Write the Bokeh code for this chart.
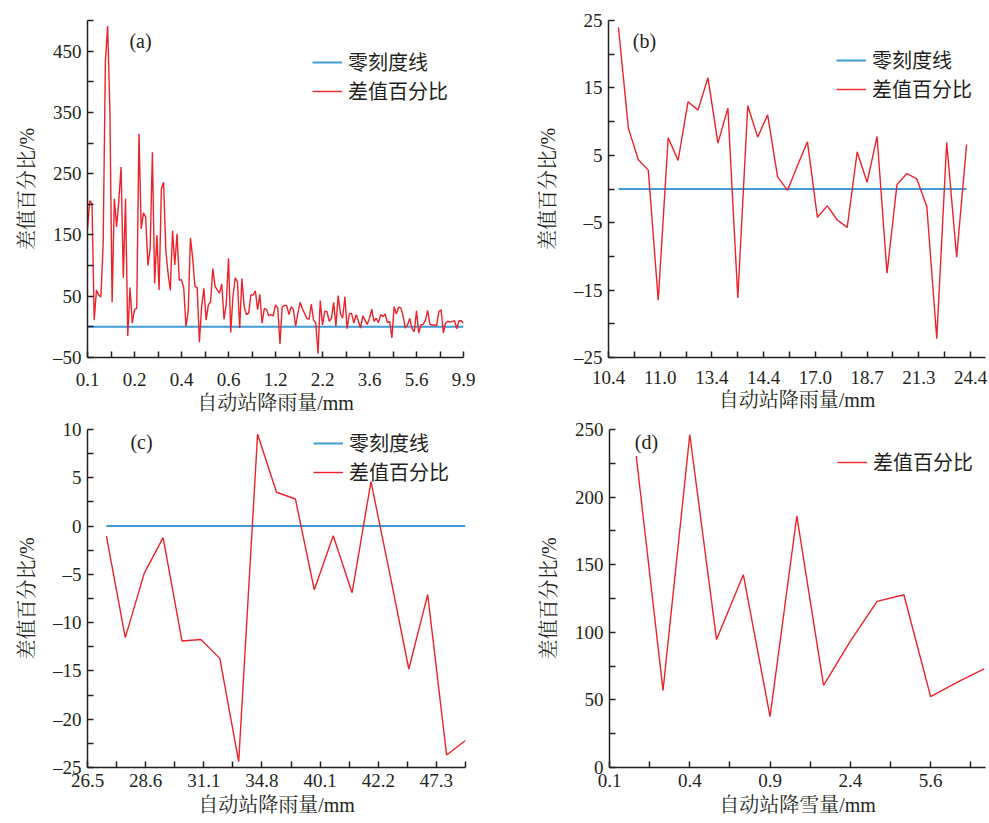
from bokeh.plotting import figure
from bokeh.models import Range1d, FixedTicker, Legend, LegendItem, Label
from bokeh.layouts import column, row
from bokeh.embed import file_html
from bokeh.resources import INLINE

# ---------------- data ----------------
A_VALUES = [160, 206, 201, 11, 60, 52, 49, 136, 434, 491, 353, 40, 209, 163, 206, 261, 80, 209, -15, 64,
            6, 28, 30, 315, 160, 186, 179, 100, 128, 285, 71, 150, 60, 225, 236, 125, 87, 60, 157, 101,
            152, 76, 77, 63, 1, 25, 145, 112, 66, 64, -25, 33, 63, 11, 36, 41, 95, 66, 60, 55,
            70, 12, 37, 112, -9, 50, 80, 74, -2, 79, 33, 20, 22, 52, 52, 59, 28, 53, 6, 30,
            28, 18, 20, 18, 36, 31, -28, 33, 35, 35, 20, 33, 28, 1, 22, 40, 30, 22, 14, 12,
            37, 11, 6, -44, 43, 3, 25, 25, 9, 14, 40, 1, 51, 22, 14, 49, -3, 21, 22, 6,
            20, 10, -2, 18, 11, 4, 14, 29, 9, 14, 7, 20, 17, 21, 7, 9, -18, 33, 21, 32,
            31, 18, -2, 3, 14, -3, -8, 26, -10, 3, 4, 11, 27, 4, 3, 3, 2, 25, 28, -10,
            6, 9, 8, 9, 10, -3, 10, 10, 6]
A_XLABELS = ["0.1", "0.2", "0.4", "0.6", "1.2", "2.2", "3.6", "5.6", "9.9"]
A_YLABELED = [-50, 50, 150, 250, 350, 450]
A_YMINOR = [0, 100, 200, 300, 400, 500]

B_VALUES = [24.0, 9.0, 4.35, 2.8, -16.5, 7.6, 4.25, 12.95, 11.7, 16.5, 6.8, 12.0, -16.15, 12.35, 7.7, 11.0,
            1.8, -0.2, 3.5, 7.0, -4.2, -2.5, -4.6, -5.7, 5.5, 1.0, 7.8, -12.5, 0.65, 2.3, 1.5, -2.6,
            -22.2, 6.9, -10.1, 6.6]
B_XLABELS = ["10.4", "11.0", "13.4", "14.4", "17.0", "18.7", "21.3", "24.4"]
B_YLABELED = [-25, -15, -5, 5, 15, 25]
B_YMINOR = [-20, -10, 0, 10, 20]

C_VALUES = [-1.03, -11.55, -4.9, -1.2, -11.9, -11.75, -13.7, -24.4, 9.5, 3.5, 2.8, -6.6, -1.0, -6.9,
            4.6, -5.0, -14.8, -7.1, -23.7, -22.2]
C_XLABELS = ["26.5", "28.6", "31.1", "34.8", "40.1", "42.2", "47.3"]
C_YLABELED = [-25, -20, -15, -10, -5, 0, 5, 10]
C_YMINOR = [-22.5, -17.5, -12.5, -7.5, -2.5, 2.5, 7.5]

D_VALUES = [230.3, 57, 246.3, 94.6, 142.6, 37.6, 186, 60.7, 93.4, 122.9, 127.8, 52.4, 63.2, 73]
D_XLABELS = ["0.1", "0.4", "0.9", "2.4", "5.6"]
D_YLABELED = [0, 50, 100, 150, 200, 250]
D_YMINOR = [25, 75, 125, 175, 225]

ZERO_NAME = "零刻度线"
DIFF_NAME = "差值百分比"
YLABEL = "差值百分比/%"
XLABEL_RAIN = "自动站降雨量/mm"
XLABEL_SNOW = "自动站降雪量/mm"

RED = "#ee2229"
BLUE = "#3f9bd5"
SERIF = "'Liberation Serif', 'Noto Serif CJK SC', 'Noto Sans CJK SC'"
CJK = "'Noto Sans CJK SC'"


def fmt(v):
    s = ("%g" % abs(v))
    return ("–" + s) if v < 0 else s


def make_panel(values, xlabels, xr, tick_step, yr, ylabeled, yminor, letter, show_zero,
               width, height, borders, legend_xy, letter_xy, xlabel, xstandoff, xlabstandoff):
    bl, br, bt, bb = borders
    p = figure(width=width, height=height, output_backend="svg", toolbar_location=None,
               x_range=Range1d(*xr), y_range=Range1d(*yr),
               min_border_left=bl, min_border_right=br, min_border_top=bt, min_border_bottom=bb)
    p.xgrid.visible = False
    p.ygrid.visible = False
    p.outline_line_color = None
    p.background_fill_color = "white"
    p.border_fill_color = "white"

    xs = list(range(len(values)))
    items = []
    if show_zero:
        zeros = [0 for _ in values]
        rz = p.line(xs, zeros, line_color=BLUE, line_width=2)
        items.append(LegendItem(label=ZERO_NAME, renderers=[rz]))
    rd = p.line(xs, values, line_color=RED, line_width=1.4)
    items.append(LegendItem(label=DIFF_NAME, renderers=[rd]))

    # x ticks
    nt = 2 * (len(xlabels) - 1)
    ticks = [xr[0] + k * tick_step for k in range(nt + 1)]
    if tick_step * (nt + 1) + xr[0] <= xr[1] + 1e-6:
        ticks.append(xr[0] + (nt + 1) * tick_step)
    over = {}
    for k, t in enumerate(ticks):
        over[t] = xlabels[k // 2] if (k % 2 == 0 and k // 2 < len(xlabels)) else ""
    p.xaxis.ticker = FixedTicker(ticks=ticks)
    p.xaxis.major_label_overrides = over

    yt = sorted(ylabeled + yminor)
    p.yaxis.ticker = FixedTicker(ticks=yt)
    p.yaxis.major_label_overrides = {t: (fmt(t) if t in ylabeled else "") for t in yt}

    for ax in (p.xaxis[0], p.yaxis[0]):
        ax.axis_line_width = 1.5
        ax.axis_line_color = "#231f20"
        ax.major_tick_line_width = 1.5
        ax.major_tick_line_color = "#231f20"
        ax.major_tick_in = 6
        ax.major_tick_out = 0
        ax.minor_tick_line_color = None
        ax.major_label_text_font = SERIF
        ax.major_label_text_font_size = "19px"
        ax.major_label_text_color = "#231f20"
        ax.axis_label_text_font = SERIF
        ax.axis_label_text_font_size = "20px"
        ax.axis_label_text_font_style = "normal"
        ax.axis_label_text_color = "#231f20"
    p.xaxis.axis_label = xlabel
    p.yaxis.axis_label = YLABEL
    p.xaxis.major_label_standoff = xstandoff
    p.xaxis.axis_label_standoff = xlabstandoff
    p.yaxis.major_label_standoff = 6
    p.yaxis.axis_label_standoff = 12

    legend = Legend(items=items, location=legend_xy, padding=0, margin=0, spacing=-4,
                    glyph_width=30, glyph_height=20, label_height=20, label_standoff=6,
                    label_text_font=CJK, label_text_font_size="20px", label_text_color="#231f20",
                    border_line_alpha=0, background_fill_alpha=0)
    p.add_layout(legend, "center")

    fw = width - bl - br
    fh = height - bt - bb
    lx = xr[0] + letter_xy[0] / fw * (xr[1] - xr[0])
    ly = yr[1] - letter_xy[1] / fh * (yr[1] - yr[0])
    p.add_layout(Label(x=lx, y=ly, text="(" + letter + ")", text_align="center",
                       text_baseline="middle", text_font=SERIF, text_font_size="20px",
                       text_color="#231f20"))
    return p


na = len(A_VALUES) - 1
pa = make_panel(A_VALUES, A_XLABELS, (0, na), na / 16, (-50, 500), A_YLABELED, A_YMINOR, "a", True,
                width=528, height=418, borders=(87, 65, 20, 61), legend_xy=(225, 252),
                letter_xy=(53, 20), xlabel=XLABEL_RAIN, xstandoff=15, xlabstandoff=3)
pb = make_panel(B_VALUES, B_XLABELS, (-1, 36.9), 2.6, (-25, 25), B_YLABELED, B_YMINOR, "b", True,
                width=459, height=418, borders=(80, 2, 19, 60), legend_xy=(228, 254),
                letter_xy=(36, 21), xlabel=XLABEL_RAIN, xstandoff=13, xlabstandoff=2)
pc = make_panel(C_VALUES, C_XLABELS, (-1, 19), 20 / 13, (-25, 10), C_YLABELED, C_YMINOR, "c", True,
                width=528, height=400, borders=(87, 63, 11, 50), legend_xy=(226, 281),
                letter_xy=(54, 13), xlabel=XLABEL_RAIN, xstandoff=6, xlabstandoff=4)
pd_ = make_panel(D_VALUES, D_XLABELS, (-1, 13.05), 1.5, (0, 250), D_YLABELED, D_YMINOR, "d", False,
                 width=459, height=400, borders=(81, 2, 11, 50), legend_xy=(228, 291),
                 letter_xy=(37, 13), xlabel=XLABEL_SNOW, xstandoff=6, xlabstandoff=4)

layout = column(row(pa, pb, spacing=0), row(pc, pd_, spacing=0), spacing=0)
open("out.html", "w").write(file_html(layout, INLINE))
